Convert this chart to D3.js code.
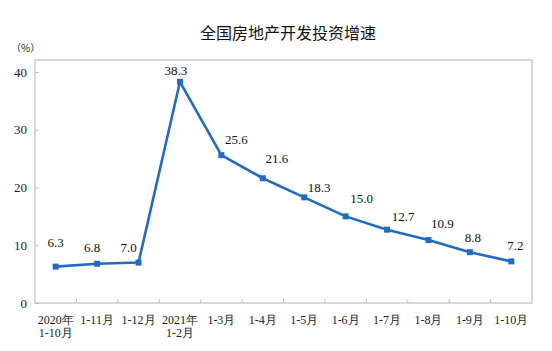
<!DOCTYPE html>
<html>
<head>
<meta charset="utf-8">
<script src="https://cdn.jsdelivr.net/npm/d3@7"></script>
<style>
  body { margin: 0; background: #fff; }
  svg { display: block; }
</style>
</head>
<body>
<svg width="552" height="351"></svg>
<script>
// data
var periods = ["2020年\n1-10月", "1-11月", "1-12月", "2021年\n1-2月", "1-3月", "1-4月",
               "1-5月", "1-6月", "1-7月", "1-8月", "1-9月", "1-10月"];
var growth = [6.3, 6.8, 7.0, 38.3, 25.6, 21.6, 18.3, 15.0, 12.7, 10.9, 8.8, 7.2];
var yTicks = [0, 10, 20, 30, 40];
// label placement relative to its point (dx, dy of baseline)
var labelDx = [0, -5, -10, -4, 15, 14, 15, 16, 16, 14, 3, 4];
var labelDy = [-20, -12, -11, -7, -11, -15, -5, -13, -9, -12, -10, -11];

var svg = d3.select("svg"),
    margin = {top: 60, right: 20, bottom: 48, left: 35},
    width = 532 - margin.left,
    height = 303 - margin.top;

var x = d3.scaleBand().domain(d3.range(periods.length)).range([0, width]),
    y = d3.scaleLinear().domain([0, 40]).range([height, height - 40 * 5.775]);

var blue = "#1f6cc6";
var serif = "'Liberation Serif', 'Times New Roman', serif";

// title
svg.append("text")
    .attr("x", 288)
    .attr("y", 39)
    .attr("text-anchor", "middle")
    .attr("font-family", "'Noto Sans CJK SC', sans-serif")
    .attr("font-size", 16)
    .attr("fill", "#111")
    .text("全国房地产开发投资增速");

svg.append("text")
    .attr("x", 11)
    .attr("y", 52)
    .attr("font-family", "'Noto Sans CJK SC', sans-serif")
    .attr("font-size", 10)
    .attr("fill", "#222")
    .text("（%）");

var g = svg.append("g")
    .attr("transform", "translate(" + margin.left + "," + margin.top + ")");

// plot frame
g.append("rect")
    .attr("x", 0).attr("y", 0)
    .attr("width", width).attr("height", height)
    .attr("fill", "none")
    .attr("stroke", "#c0c0c0")
    .attr("stroke-width", 1.2);

// y axis
var yAxis = g.append("g")
    .call(d3.axisLeft(y).tickValues(yTicks).tickSize(-4).tickPadding(8));
yAxis.select(".domain").remove();
yAxis.selectAll("line").attr("stroke", "#c0c0c0");
yAxis.selectAll("text")
    .attr("font-family", serif)
    .attr("font-size", 13)
    .attr("fill", "#1c1c3a");

// x axis tick marks at band edges
g.selectAll(".xtick")
    .data(d3.range(1, periods.length))
    .enter().append("line")
      .attr("class", "xtick")
      .attr("x1", function(i) { return x(i); })
      .attr("x2", function(i) { return x(i); })
      .attr("y1", height)
      .attr("y2", height - 4)
      .attr("stroke", "#c0c0c0");

// x labels
var xl = g.selectAll(".xlabel")
    .data(periods)
    .enter().append("text")
      .attr("class", "xlabel")
      .attr("text-anchor", "middle")
      .attr("font-family", serif)
      .attr("font-size", 12)
      .attr("fill", "#222")
      .attr("transform", function(d, i) {
        return "translate(" + (x(i) + x.bandwidth() / 2) + "," + (height + 21) + ")";
      });
xl.selectAll("tspan")
    .data(function(d) { return d.split("\n"); })
    .enter().append("tspan")
      .attr("x", 0)
      .attr("dy", function(d, j) { return j ? 13 : 0; })
      .text(function(d) { return d; });

// line
var line = d3.line()
    .x(function(d, i) { return x(i) + x.bandwidth() / 2; })
    .y(function(d) { return y(d); });

g.append("path")
    .datum(growth)
    .attr("fill", "none")
    .attr("stroke", blue)
    .attr("stroke-width", 2.6)
    .attr("stroke-linejoin", "round")
    .attr("d", line);

g.selectAll(".pt")
    .data(growth)
    .enter().append("rect")
      .attr("class", "pt")
      .attr("x", function(d, i) { return x(i) + x.bandwidth() / 2 - 3; })
      .attr("y", function(d) { return y(d) - 3; })
      .attr("width", 6)
      .attr("height", 6)
      .attr("fill", blue);

g.selectAll(".val")
    .data(growth)
    .enter().append("text")
      .attr("class", "val")
      .attr("text-anchor", "middle")
      .attr("font-family", serif)
      .attr("font-size", 13)
      .attr("fill", "#111")
      .attr("x", function(d, i) { return x(i) + x.bandwidth() / 2 + labelDx[i]; })
      .attr("y", function(d, i) { return y(d) + labelDy[i]; })
      .text(function(d) { return d.toFixed(1); });
</script>
</body>
</html>
